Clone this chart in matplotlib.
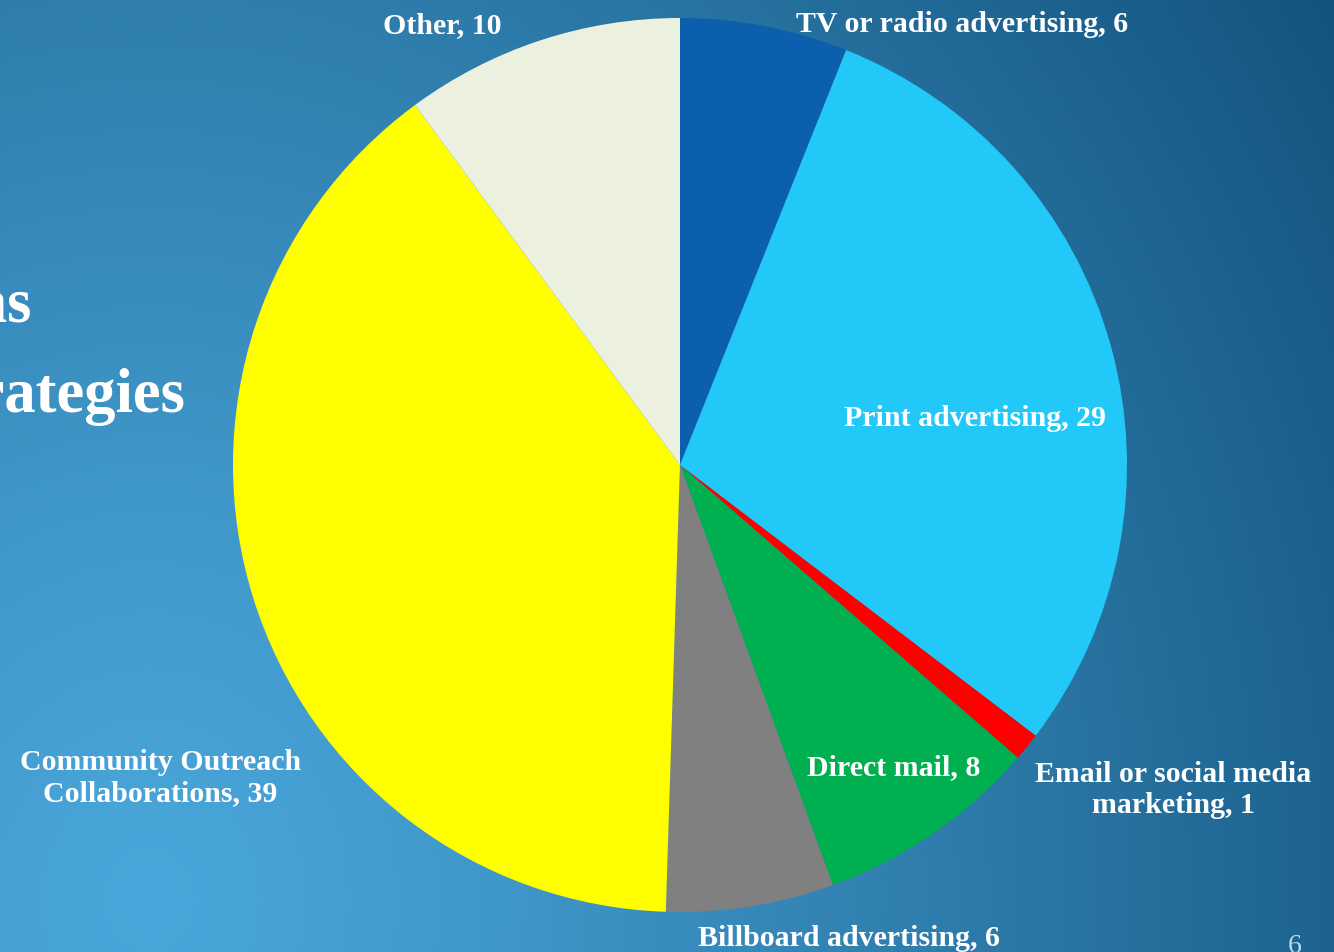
import numpy as np
import matplotlib.pyplot as plt
from matplotlib.colors import to_rgb

# ---------------------------------------------------------------------------
# data
# ---------------------------------------------------------------------------
categories = ['TV or radio advertising', 'Print advertising',
              'Email or social media\nmarketing', 'Direct mail',
              'Billboard advertising', 'Community Outreach\nCollaborations',
              'Other']
counts = [6, 29, 1, 8, 6, 39, 10]
colors = ['#0c5fad', '#22c8f8', '#ff0000', '#00b050',
          '#808080', '#ffff00', '#ebf1de']

# label anchors (pie units, radius = 1), baseline of last line
label_pos = [(0.631, 0.971), (0.660, 0.089), (1.103, -0.776),
             (0.479, -0.691), (0.378, -1.074), (-1.163, -0.749),
             (-0.532, 0.969)]

W, H, DPI = 1334, 953, 100
CX, CY, R = 680, 466, 447          # pie centre / radius in pixels
FONT = 'Liberation Serif'

fig = plt.figure(figsize=(W / DPI, H / DPI), dpi=DPI)

# ---------------------------------------------------------------------------
# slide background: light blue bottom-left fading to dark blue top-right
# ---------------------------------------------------------------------------
bg = fig.add_axes([0, 0, 1, 1], zorder=0)
yy, xx = np.mgrid[0:H, 0:W]
t = np.sqrt(((xx - 150) / 1200.0) ** 2 + ((yy - 900) / 1400.0) ** 2)
t = np.clip(t / 1.18, 0, 1) ** 1.2
light, dark = np.array(to_rgb('#4aa6da')), np.array(to_rgb('#12537d'))
img = light[None, None, :] * (1 - t[..., None]) + dark[None, None, :] * t[..., None]
bg.imshow(img, extent=[0, W, H, 0], aspect='auto', interpolation='bilinear')
bg.set_xlim(0, W)
bg.set_ylim(H, 0)
bg.axis('off')

# ---------------------------------------------------------------------------
# pie
# ---------------------------------------------------------------------------
ax = fig.add_axes([0, 0, 1, 1], zorder=1)
ax.patch.set_alpha(0)
ax.pie(counts, colors=colors, startangle=90, counterclock=False,
       radius=1, wedgeprops=dict(linewidth=0))
ax.set_aspect('auto')
ax.set_xlim(-CX / R, (W - CX) / R)
ax.set_ylim(-(H - CY) / R, CY / R)
ax.axis('off')

for name, n, (x, y) in zip(categories, counts, label_pos):
    ax.text(x, y, f'{name}, {n}', ha='center', va='baseline',
            multialignment='center', color='white', fontsize=21.5,
            fontweight='bold', family=FONT, linespacing=1.2)

# slide title (runs off the left edge) and slide number
ax.text((32 - CX) / R, (CY - 321) / R, 'Ideas', ha='right', va='baseline',
        color='white', fontsize=45, fontweight='bold', family=FONT)
ax.text((185 - CX) / R, (CY - 412) / R, 'Strategies', ha='right',
        va='baseline', color='white', fontsize=45, fontweight='bold',
        family=FONT)
ax.text((1295 - CX) / R, (CY - 934) / R, '6', ha='center', va='top',
        color='#b7dcef', fontsize=20, family=FONT)

fig.savefig('out.png', dpi=DPI)
